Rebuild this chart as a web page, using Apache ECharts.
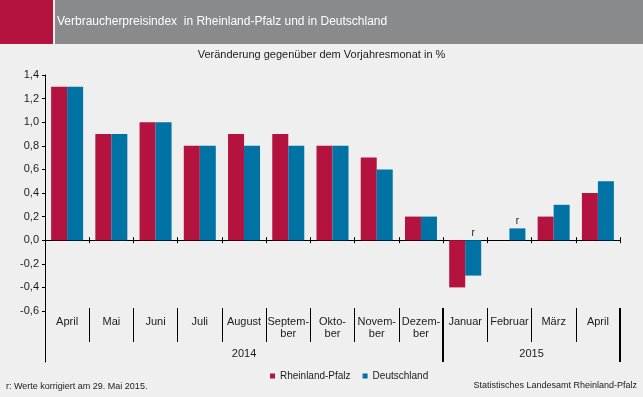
<!doctype html>
<html lang="de">
<head>
	<meta charset="UTF-8">
	<title>Verbraucherpreisindex</title>
	<script src="https://cdn.jsdelivr.net/npm/echarts@6/dist/echarts.min.js"></script>
	<style>
		html, body { margin: 0; padding: 0; background: #eeefee; }
		#chart { width: 643px; height: 397px; }
	</style>
</head>
<body>
	<div id="chart"></div>

	<script>
		// Daten
		var monate = ['April', 'Mai', 'Juni', 'Juli', 'August', 'Septem-\nber', 'Okto-\nber', 'Novem-\nber', 'Dezem-\nber', 'Januar', 'Februar', 'März', 'April'];
		var rlp = [1.3, 0.9, 1.0, 0.8, 0.9, 0.9, 0.8, 0.7, 0.2, -0.4, 0.0, 0.2, 0.4];
		var deutschland = [1.3, 0.9, 1.0, 0.8, 0.8, 0.8, 0.8, 0.6, 0.2, -0.3, 0.1, 0.3, 0.5];
		var korrigiert = ['', '', '', '', '', '', '', '', '', 'r', 'r', '', ''];
		var jahre = ['2014', '2015'];
		var monateProJahr = [9, 4];
		var yTicks = [-0.6, 1.4, 0.2]; // min, max, interval

		var rot = '#b5133f';
		var blau = '#0072a4';
		var schrift = 'Liberation Sans, Arial, sans-serif';

		// Jahresbereiche aus Monatsanzahl
		var jahrBereiche = [];
		var jahrGrenzen = [];
		var start = 0;
		for (var i = 0; i < jahre.length; i++) {
			jahrBereiche.push([{ xAxis: start, name: jahre[i] }, { xAxis: start + monateProJahr[i] }]);
			start += monateProJahr[i];
			jahrGrenzen.push({ xAxis: start });
		}

		var deData = deutschland.map(function (v, i) {
			if (!korrigiert[i]) return v;
			return {
				value: v,
				label: { show: true, formatter: korrigiert[i], position: 'top', distance: 2, fontSize: 10, color: '#222', fontFamily: schrift }
			};
		});

		var chart = echarts.init(document.getElementById('chart'));

		var plot = { left: 45, right: 23, top: 75, height: 236 };

		option = {
			backgroundColor: '#eeefee',
			animation: false,
			textStyle: { fontFamily: schrift },
			graphic: [
				{ type: 'rect', shape: { x: 0, y: 0, width: 53, height: 44 }, style: { fill: '#b5133f' } },
				{ type: 'rect', shape: { x: 55, y: 0, width: 588, height: 44 }, style: { fill: '#898a8b' } }
			],
			title: [
				{
					text: 'Verbraucherpreisindex  in Rheinland-Pfalz und in Deutschland',
					left: 57, top: 16, padding: 0,
					textStyle: { color: '#fff', fontSize: 12, fontWeight: 'normal', fontFamily: schrift }
				},
				{
					text: 'Veränderung gegenüber dem Vorjahresmonat in %',
					left: 'center', top: 49, padding: 0,
					textStyle: { color: '#1a1a1a', fontSize: 11, fontWeight: 'normal', fontFamily: schrift }
				},
				{
					text: 'r: Werte korrigiert am 29. Mai 2015.',
					left: 6, top: 382, padding: 0,
					textStyle: { color: '#1a1a1a', fontSize: 9, fontWeight: 'normal', fontFamily: schrift }
				},
				{
					text: 'Statistisches Landesamt Rheinland-Pfalz',
					right: 6, top: 381, padding: 0,
					textStyle: { color: '#1a1a1a', fontSize: 9, fontWeight: 'normal', fontFamily: schrift }
				}
			],
			legend: {
				left: 270, top: 371, padding: 0,
				icon: 'rect', itemWidth: 5, itemHeight: 5, itemGap: 12,
				textStyle: { fontSize: 10, color: '#1a1a1a', fontFamily: schrift },
				data: ['Rheinland-Pfalz', 'Deutschland']
			},
			grid: [
				plot,
				{ left: 45, right: 23, top: 308, height: 34 },
				{ left: 45, right: 23, top: 308, height: 54 },
				plot
			],
			xAxis: [
				{
					// Nulllinie, Striche nach unten
					gridIndex: 0, type: 'category', data: monate, position: 'bottom',
					axisLine: { onZero: true, lineStyle: { color: '#000', width: 1 } },
					axisTick: { show: true, interval: 0, length: 3, lineStyle: { color: '#000' } },
					axisLabel: { show: false }
				},
				{
					// Monatszeile
					gridIndex: 1, type: 'category', data: monate, position: 'top',
					axisLine: { show: false, onZero: false },
					axisTick: { show: true, inside: true, interval: 0, length: 34, lineStyle: { color: '#000', width: 1 } },
					axisLabel: {
						inside: true, interval: 0, margin: 8, verticalAlign: 'top',
						fontSize: 11, lineHeight: 12, color: '#1a1a1a', fontFamily: schrift
					}
				},
				{
					gridIndex: 2, type: 'value', min: 0, max: 13, show: false
				},
				{
					// Nulllinie, Striche nach oben
					gridIndex: 3, type: 'category', data: monate, position: 'bottom',
					axisLine: { onZero: true, lineStyle: { color: '#000', width: 1 } },
					axisTick: { show: true, inside: true, interval: 0, length: 3, lineStyle: { color: '#000' } },
					axisLabel: { show: false }
				}
			],
			yAxis: [
				{
					gridIndex: 0, type: 'value', min: yTicks[0], max: yTicks[1], interval: yTicks[2],
					axisLine: { show: true, onZero: false, lineStyle: { color: '#000' } },
					axisTick: { show: true, length: 3, lineStyle: { color: '#000' } },
					splitLine: { show: false },
					axisLabel: {
						margin: 6, fontSize: 11, color: '#1a1a1a', fontFamily: schrift,
						formatter: function (v) { return v.toFixed(1).replace('.', ','); }
					}
				},
				{
					gridIndex: 1, type: 'value', min: 0, max: 1, show: false
				},
				{
					gridIndex: 2, type: 'value', min: 0, max: 1,
					axisLine: { show: true, onZero: false, lineStyle: { color: '#000' } },
					axisTick: { show: false }, axisLabel: { show: false }, splitLine: { show: false }
				},
				{
					gridIndex: 3, type: 'value', min: yTicks[0], max: yTicks[1], interval: yTicks[2], show: false
				}
			],
			series: [
				{
					name: 'Rheinland-Pfalz', type: 'bar', xAxisIndex: 0, yAxisIndex: 0,
					barWidth: 16, barGap: '0%',
					itemStyle: { color: rot },
					data: rlp
				},
				{
					name: 'Deutschland', type: 'bar', xAxisIndex: 0, yAxisIndex: 0,
					barWidth: 16, barGap: '0%',
					itemStyle: { color: blau },
					data: deData
				},
				{
					// Jahreszeile
					type: 'line', xAxisIndex: 2, yAxisIndex: 2, data: [],
					silent: true,
					markLine: {
						silent: true, symbol: 'none',
						lineStyle: { color: '#000', width: 2, type: 'solid' },
						label: { show: false },
						data: jahrGrenzen
					},
					markArea: {
						silent: true,
						itemStyle: { color: 'rgba(0,0,0,0)' },
						label: {
							show: true, position: 'insideBottom', distance: 3,
							fontSize: 11, color: '#1a1a1a', fontFamily: schrift
						},
						data: jahrBereiche
					}
				}
			]
		};
		chart.setOption(option);
	</script>
</body>
</html>
